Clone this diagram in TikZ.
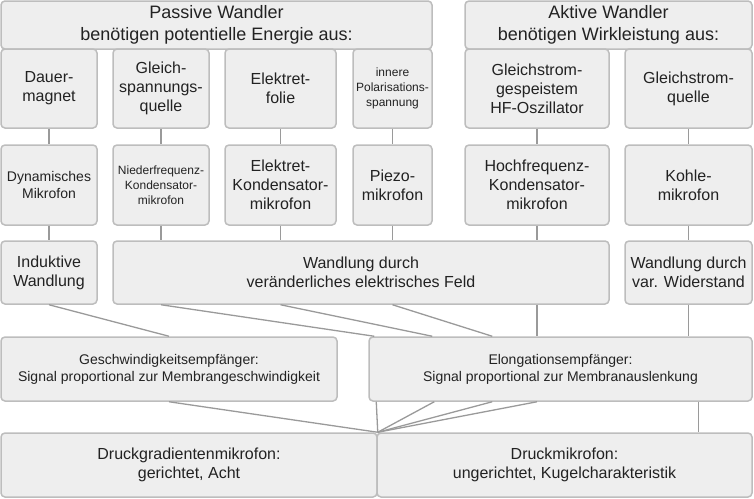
\documentclass[tikz,border=0pt]{standalone}
\usepackage{fontspec}
\setmainfont{Liberation Sans}
\usetikzlibrary{calc}
\definecolor{boxfill}{HTML}{EEEEEE}
\definecolor{boxline}{HTML}{BDBDBD}
\definecolor{edgecol}{HTML}{9A9A9A}
\definecolor{txt}{HTML}{222222}
\tikzset{
 box/.style={draw=boxline, fill=boxfill, line width=1.5pt, rounded corners=4pt, inner sep=0pt, align=center, text=txt, font=\fontsize{16}{19.2}\selectfont},
 big/.style={font=\fontsize{18}{21.6}\selectfont},
 mid/.style={font=\fontsize{14}{17}\selectfont},
 small/.style={font=\fontsize{12}{15}\selectfont},
 conn/.style={draw=edgecol, line width=1.3pt},
}
\newcommand{\mybox}[7][]{\node[box,#1,minimum width={(#5-#3)*1pt},minimum height={(#6-#4)*1pt}] (#2) at ({(#3+#5)/2},{(#4+#6)/2}) {#7};}
\begin{document}
\begin{tikzpicture}[x=1pt,y=-1pt]
\useasboundingbox (0,0) rectangle (754,498);
% headers
\mybox[big]{hp}{1}{1}{432}{49}{Passive Wandler\\benötigen potentielle Energie aus:}
\mybox[big]{ha}{465}{1}{752}{49}{Aktive Wandler\\benötigen Wirkleistung aus:}
% row 2
\mybox{a1}{1}{49}{97}{128}{Dauer-\\magnet}
\mybox{a2}{113}{49}{209}{128}{Gleich-\\spannungs-\\quelle}
\mybox{a3}{225}{49}{336}{128}{Elektret-\\folie}
\mybox[small]{a4}{353}{49}{432}{128}{innere\\Polarisations-\\spannung}
\mybox{a5}{465}{49}{609}{128}{Gleichstrom-\\gespeistem\\HF-Oszillator}
\mybox{a6}{625}{49}{752}{128}{Gleichstrom-\\quelle}
% row 3
\mybox[mid]{b1}{1}{145}{97}{225}{Dynamisches\\Mikrofon}
\mybox[small]{b2}{113}{145}{209}{225}{Niederfrequenz-\\Kondensator-\\mikrofon}
\mybox{b3}{225}{145}{336}{225}{Elektret-\\Kondensator-\\mikrofon}
\mybox{b4}{353}{145}{432}{225}{Piezo-\\mikrofon}
\mybox{b5}{465}{145}{609}{225}{Hochfrequenz-\\Kondensator-\\mikrofon}
\mybox{b6}{625}{145}{752}{225}{Kohle-\\mikrofon}
% row 4
\mybox{c1}{1}{241}{97}{304}{Induktive\\Wandlung}
\mybox{c2}{113}{241}{609}{304}{Wandlung durch\\veränderliches elektrisches Feld}
\mybox{c3}{625}{241}{752}{304}{Wandlung durch\\var. Widerstand}
% row 5
\mybox[mid]{d1}{1}{337}{337}{401}{Geschwindigkeitsempfänger:\\Signal proportional zur Membrangeschwindigkeit}
\mybox[mid]{d2}{369}{337}{752}{401}{Elongationsempfänger:\\Signal proportional zur Membranauslenkung}
% row 6
\mybox{e1}{1}{433}{377}{497}{Druckgradientenmikrofon:\\gerichtet, Acht}
\mybox{e2}{377}{433}{752}{497}{Druckmikrofon:\\ungerichtet, Kugelcharakteristik}
% connectors row 2 -> 3 -> 4
\foreach \i in {1,...,6} {\draw[conn] (a\i.south) -- (b\i.north);}
\draw[conn] (b1.south) -- (c1.north);
\draw[conn] (b2.south) -- (c2.north -| b2.south);
\draw[conn] (b3.south) -- (c2.north -| b3.south);
\draw[conn] (b4.south) -- (c2.north -| b4.south);
\draw[conn] (b5.south) -- (c2.north -| b5.south);
\draw[conn] (b6.south) -- (c3.north);
% row 4 -> 5
\draw[conn] (c1.south) -- (d1.north);
\draw[conn] (c2.south -| b2.south) -- ([xshift=6pt]d2.north west);
\draw[conn] (c2.south -| b3.south) -- ([xshift=64pt]d2.north west);
\draw[conn] (c2.south -| b4.south) -- ([xshift=124pt]d2.north west);
\draw[conn] (c2.south -| b5.south) -- (d2.north -| b5.south);
\draw[conn] (c3.south) -- (d2.north -| c3.south);
% row 5 -> 6
\coordinate (m) at (e1.north east);
\coordinate (dr) at ([xshift=-54pt]d2.south east);
\draw[conn] (d1.south) -- (m);
\draw[conn] ([xshift=8pt]d2.south west) -- (m);
\draw[conn] ([xshift=66pt]d2.south west) -- (m);
\draw[conn] ([xshift=124pt]d2.south west) -- (m);
\draw[conn] (d2.south -| b5.south) -- (m);
\draw[conn] (dr) -- (e2.north -| dr);
\end{tikzpicture}
\end{document}
